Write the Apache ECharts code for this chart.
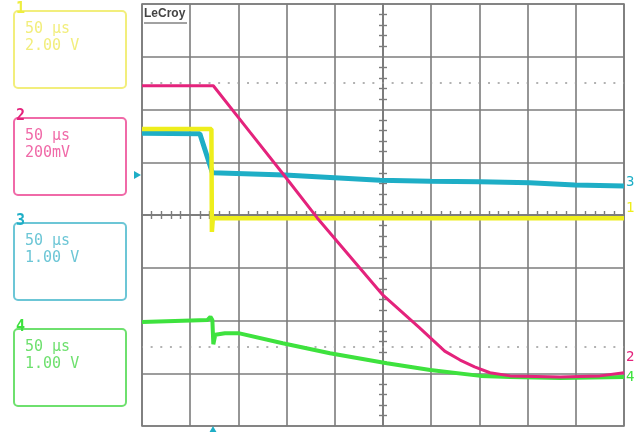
<!DOCTYPE html>
<html>
<head>
<meta charset="utf-8">
<script src="https://cdn.jsdelivr.net/npm/echarts@6/dist/echarts.min.js"></script>
<style>
  html, body { margin: 0; padding: 0; background: #fff; }
  #scope { width: 642px; height: 432px; }
</style>
</head>
<body>
<div id="scope"></div>
<script>
// time in µs (50 µs/div, 10 div), amplitude in divisions (8 div)
var ch1 = [[-250, 1.63], [-178, 1.63], [-177.5, -0.32], [-176.5, -0.06], [250, -0.06]];
var ch2 = [[-250, 2.45], [-176, 2.45], [-138, 1.57], [-102, 0.74], [-68, -0.06], [0, -1.52],
           [38, -2.14], [64, -2.58], [80, -2.75], [95, -2.88], [111, -2.99], [132, -3.05],
           [184, -3.07], [225, -3.05], [250, -2.99]];
var ch3 = [[-250, 1.55], [-190, 1.54], [-177, 0.80], [-102, 0.76], [-3, 0.66], [49, 0.64],
           [101, 0.63], [152, 0.61], [199, 0.57], [250, 0.55]];
var ch4 = [[-250, -2.03], [-182, -1.99], [-179, -1.93], [-177, -1.99], [-176, -2.45], [-174, -2.27],
           [-164, -2.24], [-150, -2.24], [-104, -2.43], [-55, -2.62], [4, -2.81], [49, -2.94],
           [101, -3.05], [132, -3.07], [184, -3.09], [250, -3.07]];

var chNames = ['1', '2', '3', '4'];
var chTimebase = ['50 µs', '50 µs', '50 µs', '50 µs'];
var chScale = ['2.00 V', '200mV', '1.00 V', '1.00 V'];
var dottedLevels = [2.5, -2.5];

var traceColors = ['#eeee1c', '#e4237c', '#1eaec6', '#3ee23e'];
var boxColors = ['#f2ee7c', '#f06aa8', '#6cc6d6', '#6ee06e'];
var gridColor = '#7c7c7c';

var chart = echarts.init(document.getElementById('scope'));

function xAx(pos) {
  return {
    type: 'value', min: -250, max: 250, interval: 50, position: pos,
    axisLine: { onZero: true, lineStyle: { color: gridColor, width: 1.6 } },
    axisTick: { show: false },
    minorTick: { show: true, splitNumber: 5, length: 4, lineStyle: { color: gridColor, width: 1.4 } },
    axisLabel: { show: false },
    splitLine: { show: pos === 'bottom', lineStyle: { color: gridColor, width: 1.6 } }
  };
}
function yAx(pos) {
  return {
    type: 'value', min: -4, max: 4, interval: 1, position: pos,
    axisLine: { onZero: true, lineStyle: { color: gridColor, width: 1.6 } },
    axisTick: { show: false },
    minorTick: { show: true, splitNumber: 5, length: 4, lineStyle: { color: gridColor, width: 1.4 } },
    axisLabel: { show: false },
    splitLine: { show: pos === 'left', lineStyle: { color: gridColor, width: 1.6 } }
  };
}

function trace(data, color, width, label, offset, z) {
  return {
    type: 'line', data: data, showSymbol: false, symbol: 'none', z: z,
    xAxisIndex: 0, yAxisIndex: 0,
    lineStyle: { color: color, width: width },
    endLabel: {
      show: true, formatter: label, color: color, distance: 2, offset: offset,
      fontFamily: 'DejaVu Sans Mono', fontSize: 14
    }
  };
}

// left channel boxes
var boxTops = [10, 117, 222, 328];
var graphics = [];
boxTops.forEach(function (top, i) {
  graphics.push({
    type: 'rect', left: 13, top: top, z: 10,
    shape: { width: 112, height: 77, r: 4 },
    style: { fill: '#fff', stroke: boxColors[i], lineWidth: 2 }
  });
  graphics.push({
    type: 'text', left: 16, top: top - 8, z: 11,
    style: { text: chNames[i], fill: i === 0 ? '#eeee40' : traceColors[i],
             font: 'bold 15px "DejaVu Sans Mono"' }
  });
  graphics.push({
    type: 'text', left: 25, top: top + 12, z: 11,
    style: { text: chTimebase[i], fill: boxColors[i], font: '15px "DejaVu Sans Mono"' }
  });
  graphics.push({
    type: 'text', left: 25, top: top + 29, z: 11,
    style: { text: chScale[i], fill: boxColors[i], font: '15px "DejaVu Sans Mono"' }
  });
});
graphics.push({
  type: 'text', left: 144, top: 8, z: 11,
  style: { text: 'LeCroy', fill: '#444', font: 'bold 12px "Liberation Sans"' }
});
graphics.push({
  type: 'line', z: 11, shape: { x1: 144, y1: 23, x2: 187, y2: 23 },
  style: { stroke: '#444', lineWidth: 1 }
});
graphics.push({
  type: 'polygon', z: 11, shape: { points: [[134, 171], [141, 175], [134, 179]] },
  style: { fill: traceColors[2] }
});
graphics.push({
  type: 'polygon', z: 11, shape: { points: [[209, 433], [213, 426], [217, 433]] },
  style: { fill: traceColors[2] }
});

chart.setOption({
  animation: false,
  backgroundColor: '#fff',
  grid: { left: 142, top: 4, width: 482, height: 422, show: true, borderColor: gridColor, borderWidth: 1.6 },
  xAxis: [xAx('bottom'), xAx('top')],
  yAxis: [yAx('left'), yAx('right')],
  graphic: graphics,
  series: [
    trace(ch3, traceColors[2], 5, '3', [0, -4], 3),
    Object.assign(trace(ch1, traceColors[0], 4.5, '1', [0, -10], 4), {
      markLine: {
        silent: true, symbol: 'none', label: { show: false },
        lineStyle: { color: '#999', width: 1.5, type: [2, 7.64], dashOffset: 1 },
        data: dottedLevels.map(function (v) { return { yAxis: v }; })
      }
    }),
    trace(ch4, traceColors[3], 4, '4', [0, 0], 5),
    trace(ch2, traceColors[1], 3, '2', [0, -15], 6)
  ]
});
</script>
</body>
</html>
